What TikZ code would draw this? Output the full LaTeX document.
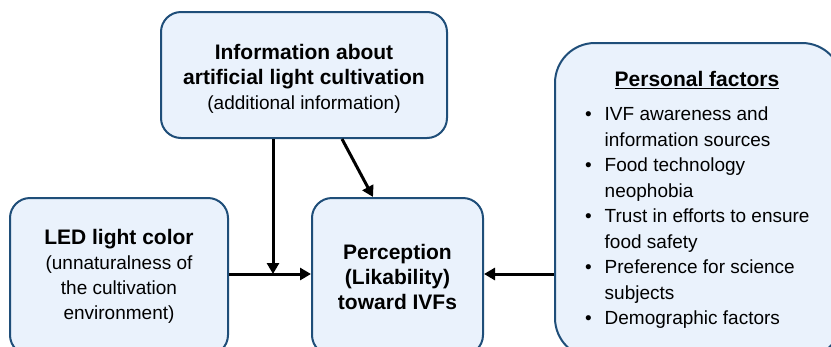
\documentclass[tikz,border=0pt]{standalone}
\usepackage{fontspec}
\setmainfont{Liberation Sans}
\usetikzlibrary{arrows.meta,calc}
\definecolor{boxfill}{RGB}{234,242,252}
\definecolor{boxline}{RGB}{31,78,121}
\newcommand{\blin}[1]{{\fontsize{21}{25}\selectfont\bfseries #1}}
\newcommand{\bitem}[1]{\makebox[19.5pt][l]{•}#1}
\newcommand{\bcont}[1]{\hspace*{19.5pt}#1}
\begin{document}
\begin{tikzpicture}[x=1pt,y=-1pt,
  box/.style={draw=boxline, fill=boxfill, line width=2pt, rounded corners=20pt,
    inner sep=0pt, align=center, font=\fontsize{19}{25}\selectfont},
  conn/.style={line width=3pt, -{Triangle[length=11pt,width=12pt]}}]
\useasboundingbox (0,0) rectangle (831,346);
\clip (0,0) rectangle (831,346);

\node[box, minimum width=286pt, minimum height=126pt] (info) at (304,75)
  {\blin{\rule{0pt}{23.5pt}Information about}\\\blin{artificial light cultivation}\\(additional information)};
\node[box, minimum width=218pt, minimum height=157pt] (led) at (119,276.5)
  {\blin{LED light color}\\(unnaturalness of\\the cultivation\\environment)};
\node[box, minimum width=171pt, minimum height=157pt] (perc) at (397.5,276.5)
  {\blin{Perception}\\\blin{(Likability)}\\\blin{toward IVFs}};
\node[box, rounded corners=40pt, minimum width=287pt, minimum height=315pt] (pf) at (698.5,200.5) {};
\node[inner sep=0pt, font=\fontsize{21}{25}\selectfont\bfseries] (pftitle) at (697,80)
  {\underline{Personal factors}};
\node[inner sep=0pt, anchor=north west, align=left, font=\fontsize{19}{25.5}\selectfont] (pflist) at (585,107)
  {\bitem{IVF awareness and}\\\bcont{information sources}\\
   \bitem{Food technology}\\\bcont{neophobia}\\
   \bitem{Trust in efforts to ensure}\\\bcont{food safety}\\
   \bitem{Preference for science}\\\bcont{subjects}\\
   \bitem{Demographic factors}};

\coordinate (j) at (273,274);
\draw[conn] (led.east |- j) -- (perc.west |- j);
\draw[conn] (info.south -| j) -- (j);
\draw[conn] ($(info.south)+(38,0)$) -- ($(perc.north)+(-24.5,0)$);
\draw[conn] (pf.west |- j) -- (perc.east |- j);
\end{tikzpicture}
\end{document}
